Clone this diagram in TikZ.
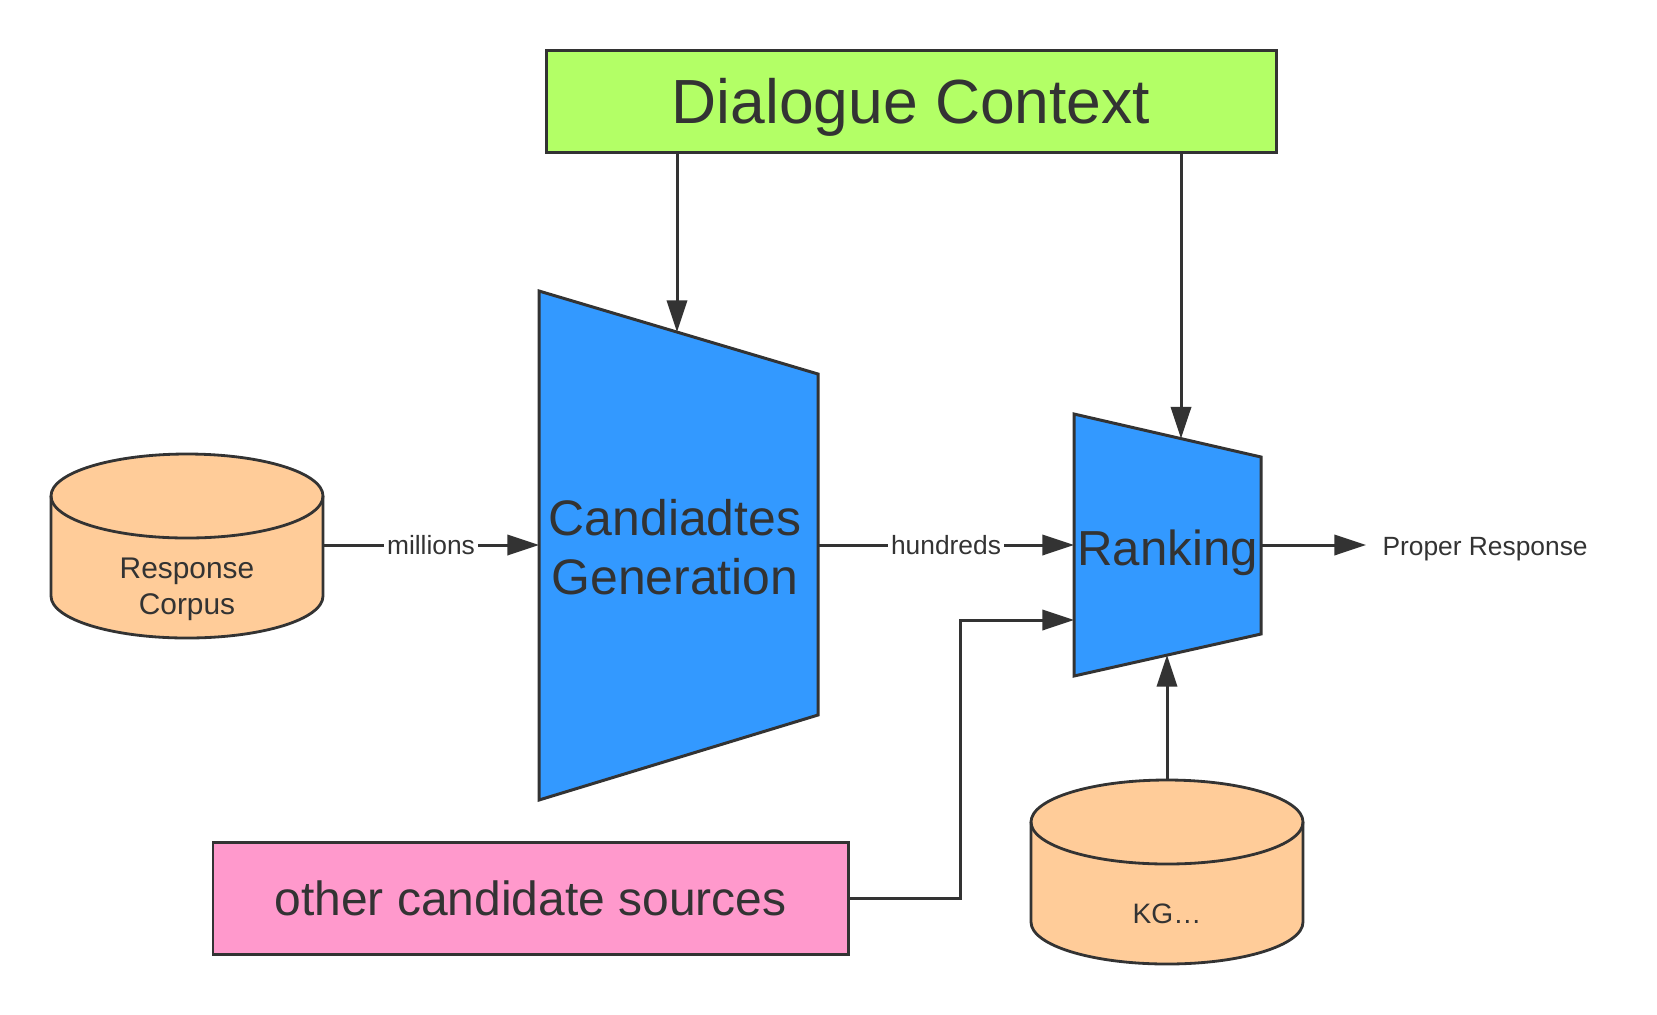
\documentclass[tikz,border=0pt]{standalone}
\usepackage{fontspec}
\setmainfont{Liberation Sans}
\usepackage{tikz}
\usetikzlibrary{arrows.meta}

\definecolor{Ink}{HTML}{333333}
\definecolor{ContextGreen}{HTML}{B3FF66}
\definecolor{StageBlue}{HTML}{3399FF}
\definecolor{StorePeach}{HTML}{FFCC99}
\definecolor{SourcePink}{HTML}{FF99CC}

\begin{document}
\begin{tikzpicture}[
    color=Ink, line width=1.7pt,
    flow/.style={-{Triangle[length=18pt, width=11.5pt]}},
    box/.style={rectangle, draw=Ink, line width=1.7pt},
    stage/.style={draw=Ink, fill=StageBlue, line join=miter},
    store/.style={draw=Ink, fill=StorePeach, line width=1.6pt},
    drumlid/.style={x radius=2.72, y radius=0.84},
    tag/.style={fill=white, inner sep=1.5pt, font=\fontsize{15}{18}\selectfont}
  ]
  \useasboundingbox (0, 0) rectangle (33.14, -20.28);

  \node (context) [box, fill=ContextGreen, minimum width=14.6cm, minimum height=2.04cm,
    text depth=0pt, font=\fontsize{35.5}{42}\selectfont] at (18.22, -2.02) {Dialogue Context};

  % candidate generation stage
  \coordinate (genTL) at (10.78, -5.82);
  \coordinate (genTR) at (16.36, -7.48);
  \coordinate (genBR) at (16.36, -14.30);
  \coordinate (genBL) at (10.78, -16.0);
  \draw[stage] (genTL) -- (genTR) -- (genBR) -- (genBL) -- cycle;
  \node (gen) [align=center, font=\fontsize{28.4}{33.6}\selectfont] at (13.5, -10.94) {
    Candiadtes\\
    Generation
  };

  % ranking stage
  \coordinate (rankTL) at (21.48, -8.28);
  \coordinate (rankTR) at (25.22, -9.14);
  \coordinate (rankBR) at (25.22, -12.68);
  \coordinate (rankBL) at (21.48, -13.52);
  \draw[stage] (rankTL) -- (rankTR) -- (rankBR) -- (rankBL) -- cycle;
  \node (rank) [font=\fontsize{28}{33}\selectfont] at (23.35, -11.06) {Ranking};

  % response corpus store
  \draw[store] (1.02, -9.92) -- (1.02, -11.92) arc[start angle=180, end angle=360, drumlid]
    -- (6.46, -9.92) arc[start angle=0, end angle=180, drumlid] -- cycle;
  \draw[store, fill=none] (1.02, -9.92) arc[start angle=180, end angle=360, drumlid];
  \node (corpusText) [align=center, font=\fontsize{17}{20.5}\selectfont] at (3.74, -11.78) {
    Response\\
    Corpus
  };

  % kg store
  \draw[store] (20.62, -16.44) -- (20.62, -18.44) arc[start angle=180, end angle=360, drumlid]
    -- (26.06, -16.44) arc[start angle=0, end angle=180, drumlid] -- cycle;
  \draw[store, fill=none] (20.62, -16.44) arc[start angle=180, end angle=360, drumlid];
  \node (kgText) [font=\fontsize{16}{19}\selectfont] at (23.34, -18.28) {KG…};

  \node (others) [box, fill=SourcePink, minimum width=12.7cm, minimum height=2.24cm,
    font=\fontsize{27.3}{33}\selectfont] at (10.61, -17.96) {other candidate sources};
  \node (answer) [anchor=west, inner xsep=0.3cm, font=\fontsize{15}{18}\selectfont] at (27.32, -10.98) {Proper Response};

  \coordinate (midline) at (0, -10.9);
  \coordinate (corpusOut) at (6.46, -10.9);
  \coordinate (kgTop) at (23.34, -15.6);
  \coordinate (genIn) at (13.54, -6.64);
  \coordinate (rankIn) at (23.62, -8.77);
  \coordinate (rankUp) at (23.34, -13.10);
  \coordinate (kink) at (19.2, -12.4);

  \draw[flow] (context.south -| genIn) -- (genIn);
  \draw[flow] (context.south -| rankIn) -- (rankIn);
  \draw[flow] (corpusOut) -- (midline -| genTL) node [tag, midway] {millions};
  \draw[flow] (midline -| genTR) -- (midline -| rankTL) node [tag, midway] {hundreds};
  \draw[flow] (midline -| rankTR) -- (midline -| answer.west);
  \draw[flow] (others.east) -| (kink) -- (kink -| rankTL);
  \draw[flow] (kgTop) -- (rankUp);
\end{tikzpicture}
\end{document}
